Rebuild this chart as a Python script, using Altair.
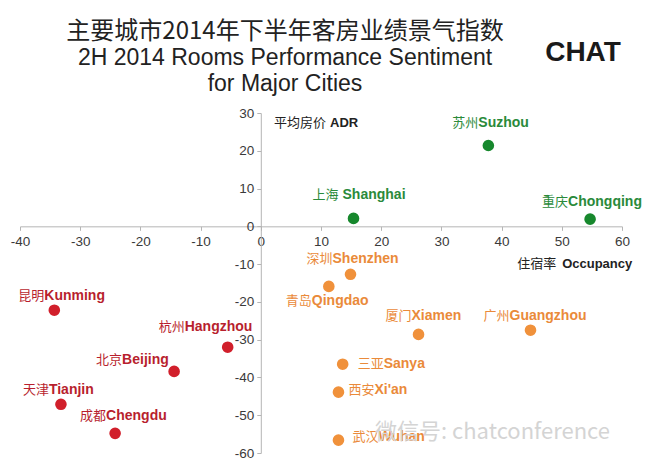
import altair as alt
import pandas as pd

# ---- data ----
cities_cn = ["苏州", "上海", "重庆", "深圳", "青岛", "厦门", "广州", "三亚", "西安", "武汉",
             "昆明", "杭州", "北京", "天津", "成都"]
cities_en = ["Suzhou", "Shanghai", "Chongqing", "Shenzhen", "Qingdao", "Xiamen", "Guangzhou",
             "Sanya", "Xi'an", "Wuhan", "Kunming", "Hangzhou", "Beijing", "Tianjin", "Chengdu"]
occupancy = [37.8, 15.4, 54.7, 14.9, 11.3, 26.2, 44.8, 13.6, 12.9, 12.9,
             -34.3, -5.5, -14.4, -33.2, -24.2]
adr = [21.4, 2.1, 1.9, -12.7, -15.9, -28.6, -27.5, -36.5, -43.9, -56.6,
       -22.2, -32.0, -38.4, -47.1, -54.8]
x_ticks = [-40, -30, -20, -10, 0, 10, 20, 30, 40, 50, 60]
y_ticks = [30, 20, 10, 0, -10, -20, -30, -40, -50, -60]

title_lines = ["主要城市2014年下半年客房业绩景气指数",
               "2H 2014 Rooms Performance Sentiment",
               "for Major Cities"]

df = pd.DataFrame({"cn": cities_cn, "en": cities_en, "occ": occupancy, "adr": adr})

# ---- styling / layout ----
W, H = 602, 340
point_colors = {"up": "#17882d", "mid": "#f0913b", "low": "#d11f2b"}
text_colors = {"up": "#2a8a3a", "mid": "#ea8a3a", "low": "#b81f2e"}

# label offsets in pixels (left edge of label relative to point, vertical shift)
label_offsets = {
    "Suzhou": (-36, -22), "Shanghai": (-41, -23), "Chongqing": (-48, -17),
    "Shenzhen": (-44, -15), "Qingdao": (-43, 15), "Xiamen": (-33, -18),
    "Guangzhou": (-47, -14), "Sanya": (15, 0), "Xi'an": (10, -2), "Wuhan": (14, -3),
    "Kunming": (-36, -14), "Hangzhou": (-69, -20), "Beijing": (-78, -11),
    "Tianjin": (-38, -14), "Chengdu": (-35, -17),
}

xscale = alt.Scale(domain=[-40, 60], nice=False, zero=False)
yscale = alt.Scale(domain=[-60, 30], nice=False, zero=False)

hyphen_labels = "datum.value < 0 ? '-' + abs(datum.value) : '' + datum.value"
axis_common = dict(grid=False, title=None, labelFontSize=13.5, labelColor="#3a3a3a",
                   labelFont="Liberation Sans", domainColor="#b5b5b5", tickColor="#b5b5b5",
                   tickSize=4, labelFlush=False, labelOverlap=False,
                   labelExpr=hyphen_labels)
xaxis = alt.Axis(values=x_ticks, orient="bottom", offset=-H * 60 / 90,
                 labelPadding=4, **axis_common)
yaxis = alt.Axis(values=y_ticks, orient="left", offset=-W * 40 / 100,
                 labelPadding=3, **axis_common)


def X(field=None, datum=None):
    if datum is not None:
        return alt.X(datum=datum, type="quantitative", scale=xscale, axis=xaxis)
    return alt.X(field, type="quantitative", scale=xscale, axis=xaxis)


def Y(field=None, datum=None):
    if datum is not None:
        return alt.Y(datum=datum, type="quantitative", scale=yscale, axis=yaxis)
    return alt.Y(field, type="quantitative", scale=yscale, axis=yaxis)


base = alt.Chart(df).transform_calculate(
    quad="datum.occ > 0 && datum.adr > 0 ? 'up' : (datum.occ > 0 ? 'mid' : 'low')"
)

points = base.mark_circle(size=135, opacity=1).encode(
    x=X("occ"), y=Y("adr"),
    color=alt.Color("quad:N", scale=alt.Scale(domain=list(point_colors.keys()),
                                              range=list(point_colors.values())),
                    legend=None),
)

layers = [points]


def quad_of(o, a):
    if o > 0 and a > 0:
        return "up"
    if o > 0:
        return "mid"
    return "low"


CN_FS = 13
EN_FS = 14
for cn, en, o, a in zip(cities_cn, cities_en, occupancy, adr):
    lx, ly = label_offsets[en]
    col = text_colors[quad_of(o, a)]
    sub = base.transform_filter(alt.datum.en == en)
    gap = 4 if en == "Shanghai" else 0
    layers.append(sub.mark_text(align="left", baseline="middle", dx=lx, dy=ly,
                                font="Noto Sans CJK SC", fontSize=CN_FS, color=col)
                  .encode(x=X("occ"), y=Y("adr"), text="cn:N"))
    layers.append(sub.mark_text(align="left", baseline="middle",
                                dx=lx + len(cn) * CN_FS + gap, dy=ly,
                                font="Liberation Sans", fontSize=EN_FS, fontWeight="bold",
                                color=col)
                  .encode(x=X("occ"), y=Y("adr"), text="en:N"))

annot = alt.Chart(pd.DataFrame({"k": [0]}))

layers += [
    # axis captions
    annot.mark_text(align="left", baseline="middle", font="Noto Sans CJK SC",
                    fontSize=13, color="#222").encode(
        x=X(datum=2.2), y=Y(datum=27.3), text=alt.value("平均房价")),
    annot.mark_text(align="left", baseline="middle", dx=56, font="Liberation Sans",
                    fontSize=13, fontWeight="bold", color="#222").encode(
        x=X(datum=2.2), y=Y(datum=27.3), text=alt.value("ADR")),
    annot.mark_text(align="right", baseline="middle", font="Liberation Sans",
                    fontSize=13, fontWeight="bold", color="#222").encode(
        x=X(datum=61.7), y=Y(datum=-10.1), text=alt.value("Occupancy")),
    annot.mark_text(align="right", baseline="middle", dx=-76, font="Noto Sans CJK SC",
                    fontSize=13, color="#222").encode(
        x=X(datum=61.7), y=Y(datum=-10.1), text=alt.value("住宿率")),
    # title lines
    annot.mark_text(align="center", baseline="middle", font="Noto Sans CJK SC",
                    fontSize=24, color="#222").encode(
        x=alt.value(265), y=alt.value(-81), text=alt.value(title_lines[0])),
    annot.mark_text(align="center", baseline="middle", font="Liberation Sans",
                    fontSize=23, color="#222").encode(
        x=alt.value(265), y=alt.value(-55), text=alt.value(title_lines[1])),
    annot.mark_text(align="center", baseline="middle", font="Liberation Sans",
                    fontSize=23, color="#222").encode(
        x=alt.value(265), y=alt.value(-29), text=alt.value(title_lines[2])),
    # logo text
    annot.mark_text(align="center", baseline="middle", font="Liberation Sans",
                    fontSize=28, fontWeight="bold", color="#1a1a1a").encode(
        x=alt.value(563), y=alt.value(-60), text=alt.value("CHAT")),
    # watermark
    annot.mark_text(align="left", baseline="middle", font="Noto Sans CJK SC",
                    fontSize=22, color="#d4d4d4").encode(
        x=alt.value(355), y=alt.value(319), text=alt.value("微信号: chatconference")),
]

chart = alt.layer(*layers).properties(
    width=W, height=H,
    autosize=alt.AutoSizeParams(type="none"),
    padding={"left": 12, "top": 105, "right": 20, "bottom": 10},
).configure(background="white").configure_view(stroke=None)

chart.save("out.html", embed_options={"renderer": "svg", "actions": False})
